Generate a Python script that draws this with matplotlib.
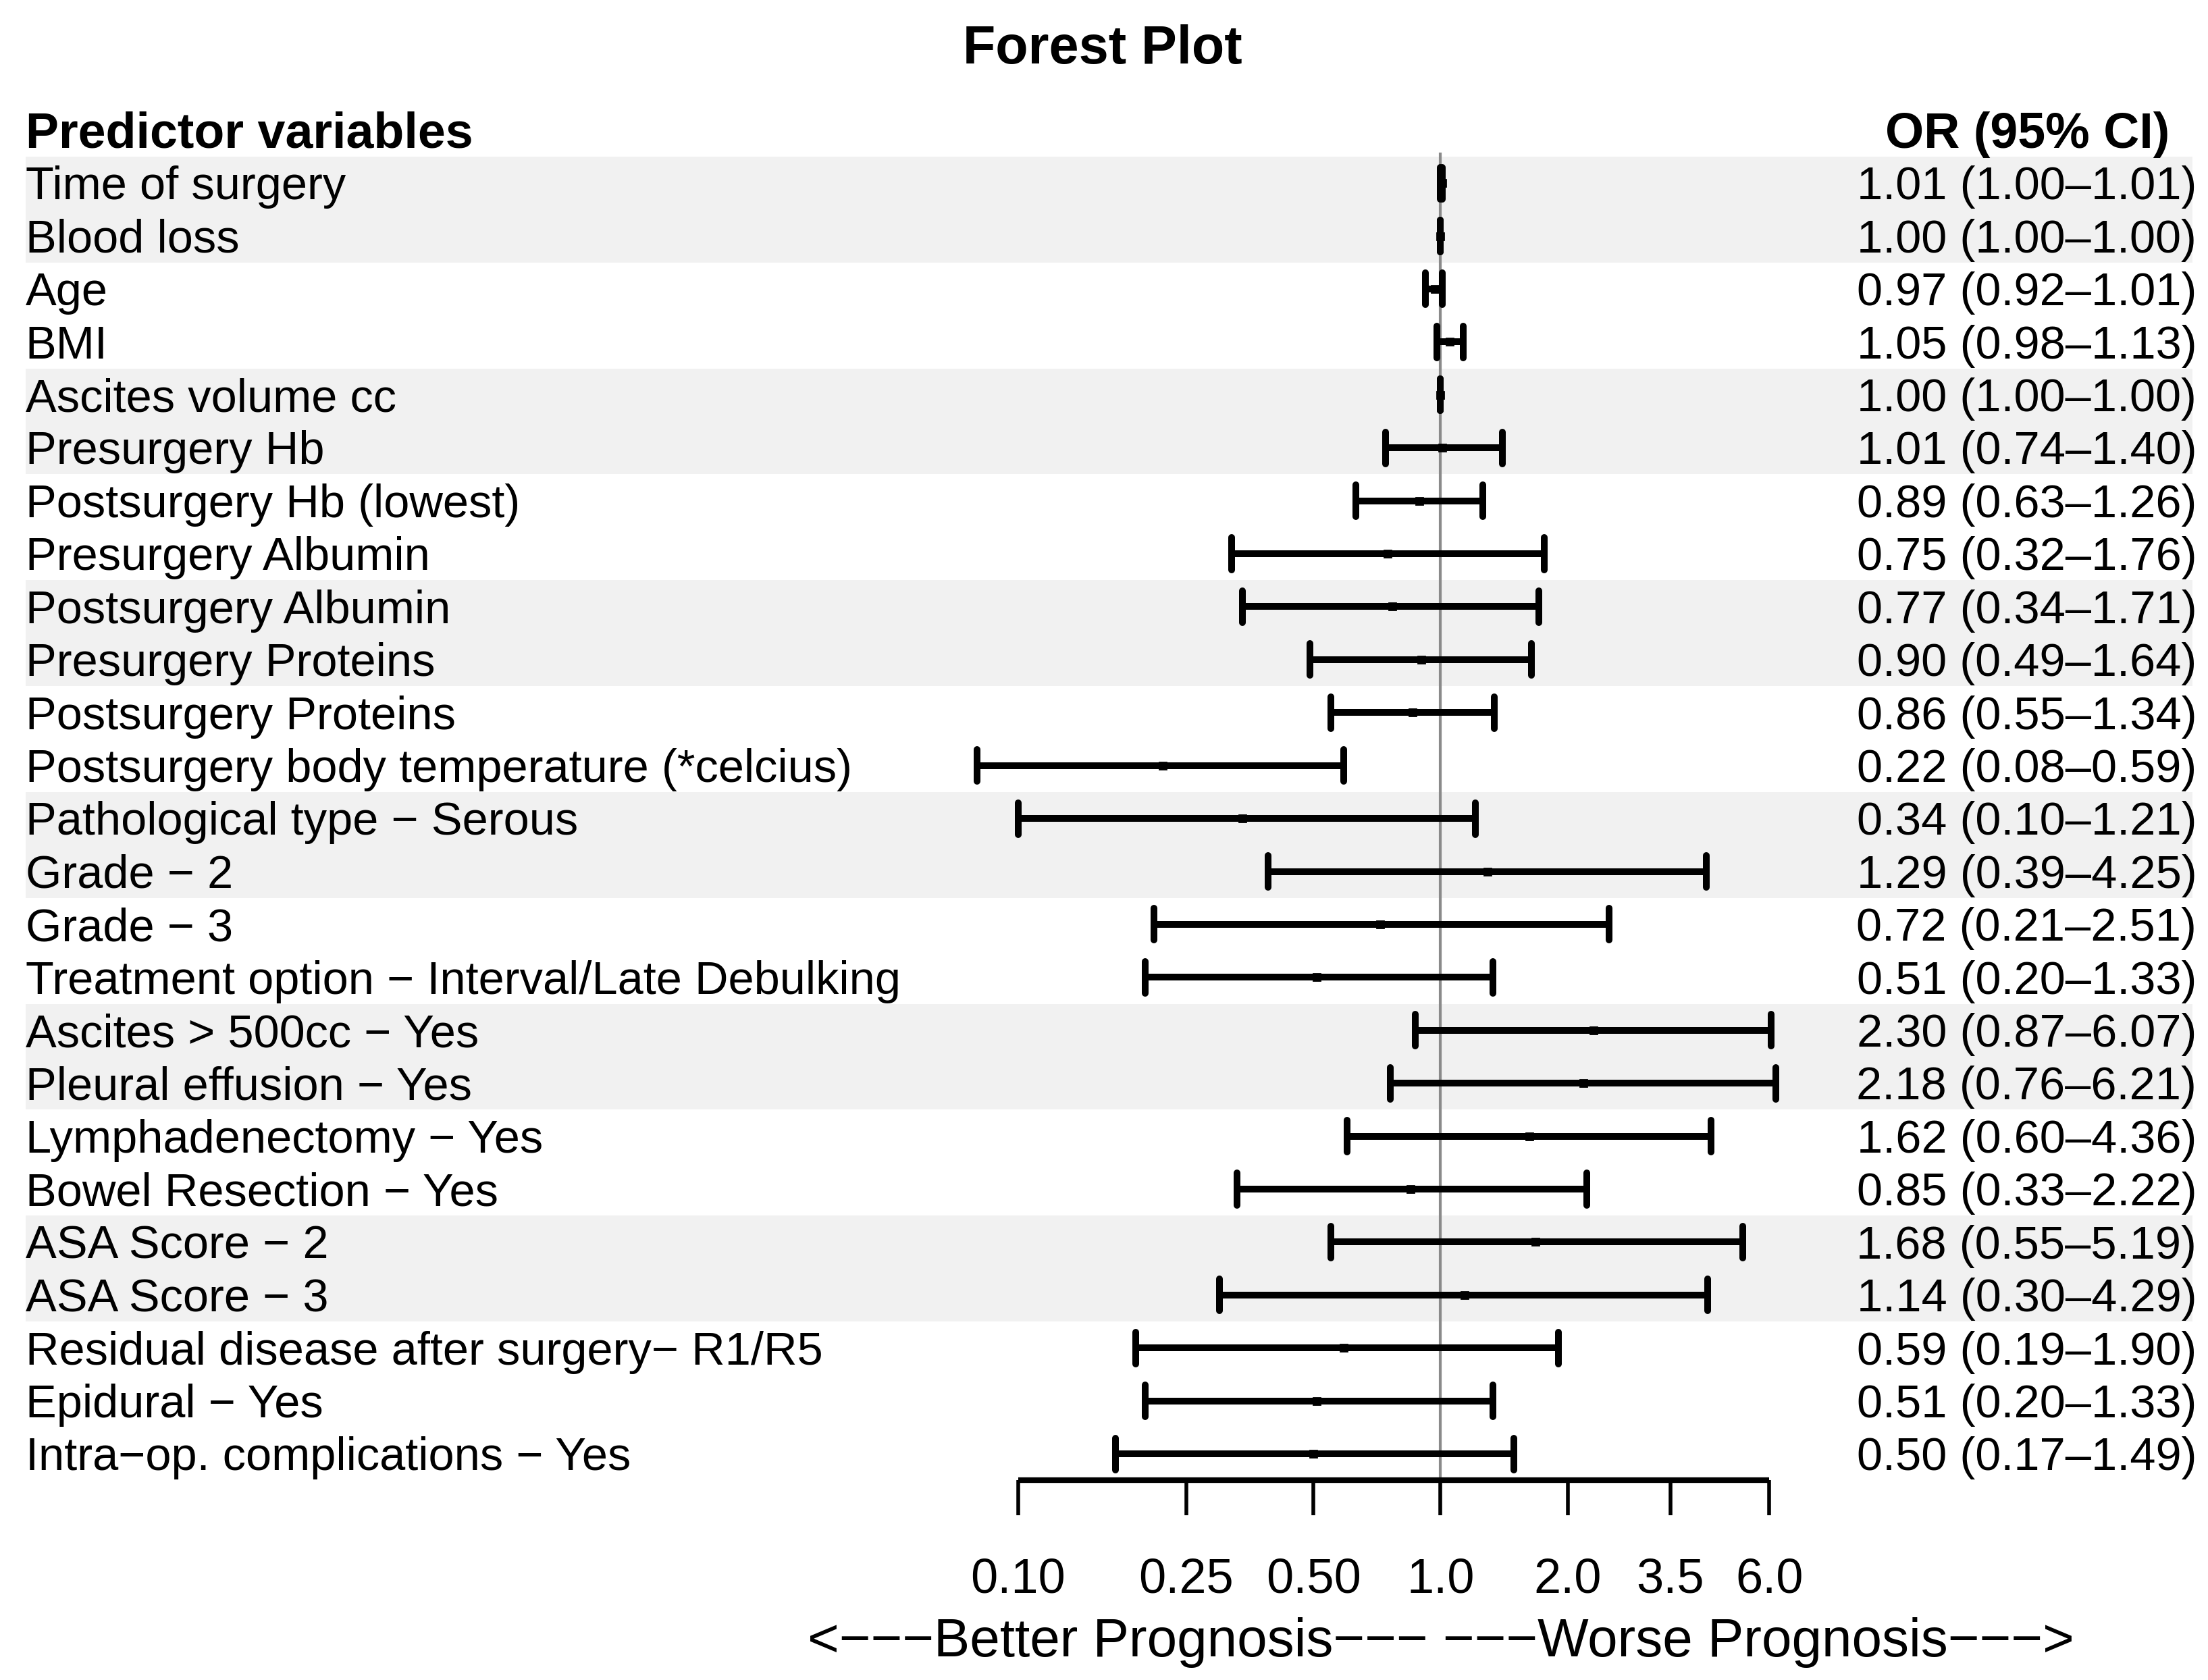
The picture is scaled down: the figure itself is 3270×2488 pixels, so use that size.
import numpy as np
import matplotlib
matplotlib.use('Agg')
import matplotlib.pyplot as plt

plt.rcParams['font.family'] = ['Liberation Sans', 'DejaVu Sans']

# Dati
labels = ['Time of surgery', 'Blood loss', 'Age', 'BMI', 'Ascites volume cc',
          'Presurgery Hb', 'Postsurgery Hb (lowest)', 'Presurgery Albumin',
          'Postsurgery Albumin', 'Presurgery Proteins', 'Postsurgery Proteins',
          'Postsurgery body temperature (*celcius)', 'Pathological type \u2212 Serous',
          'Grade \u2212 2', 'Grade \u2212 3',
          'Treatment option \u2212 Interval/Late Debulking',
          'Ascites > 500cc \u2212 Yes', 'Pleural effusion \u2212 Yes',
          'Lymphadenectomy \u2212 Yes', 'Bowel Resection \u2212 Yes',
          'ASA Score \u2212 2', 'ASA Score \u2212 3',
          'Residual disease after surgery\u2212 R1/R5', 'Epidural \u2212 Yes',
          'Intra\u2212op. complications \u2212 Yes']
odds = [1.01, 1.00, 0.97, 1.05, 1.00, 1.01, 0.89, 0.75, 0.77, 0.90, 0.86, 0.22,
        0.34, 1.29, 0.72, 0.51, 2.30, 2.18, 1.62, 0.85, 1.68, 1.14, 0.59, 0.51, 0.50]
lower = [1.00, 1.00, 0.92, 0.98, 1.00, 0.74, 0.63, 0.32, 0.34, 0.49, 0.55, 0.08,
         0.10, 0.39, 0.21, 0.20, 0.87, 0.76, 0.60, 0.33, 0.55, 0.30, 0.19, 0.20, 0.17]
upper = [1.01, 1.00, 1.01, 1.13, 1.00, 1.40, 1.26, 1.76, 1.71, 1.64, 1.34, 0.59,
         1.21, 4.25, 2.51, 1.33, 6.07, 6.21, 4.36, 2.22, 5.19, 4.29, 1.90, 1.33, 1.49]
tick_values = [0.10, 0.25, 0.50, 1.0, 2.0, 3.5, 6.0]
tick_labels = ['0.10', '0.25', '0.50', '1.0', '2.0', '3.5', '6.0']
# righe con sfondo grigio (a coppie)
shaded = [0, 1, 4, 5, 8, 9, 12, 13, 16, 17, 20, 21]

W, H = 1568.0, 1193.0          # unita' di riferimento
row0, step = 130.0, 37.6       # posizione prima riga e passo
x_one = 1023.0                 # posizione di OR = 1
px_dec = 300.0                 # pixel per decade


def fy(y):
    return (y - row0) / step


fig = plt.figure(figsize=(16.35, 12.44), dpi=200)
ax = fig.add_axes([0, 0, 1, 1])
ax.set_xscale('log')
ax.set_xlim(10 ** (-x_one / px_dec), 10 ** ((W - x_one) / px_dec))
ax.set_ylim(fy(H), fy(0))
ax.axis('off')
tr = ax.get_yaxis_transform()

n = len(labels)
rows = np.arange(n)

for i in shaded:
    ax.axhspan(i - 0.5, i + 0.5, xmin=18 / W, xmax=1557 / W,
               color='#f1f1f1', lw=0, zorder=0)

axis_y = fy(1051)
ax.plot([1, 1], [-0.55, axis_y], color='#8a8a8a', lw=1.5, zorder=1)

# intervalli di confidenza
ax.hlines(rows, lower, upper, color='black', lw=3.6, zorder=3)
cap = 0.30
ax.vlines(lower, rows - cap, rows + cap, color='black', lw=3.6, zorder=3,
          capstyle='round')
ax.vlines(upper, rows - cap, rows + cap, color='black', lw=3.6, zorder=3,
          capstyle='round')
ax.plot(odds, rows, 's', color='black', ms=3.5, zorder=4)

# asse
ax.plot([tick_values[0], tick_values[-1]], [axis_y, axis_y], color='black',
        lw=3.0, solid_capstyle='butt', zorder=3)
ax.vlines(tick_values, axis_y, fy(1076), color='black', lw=2.0)
for v, t in zip(tick_values, tick_labels):
    ax.text(v, fy(1131), t, ha='center', va='baseline', fontsize=26)
ax.text(1.0, fy(1176),
        '<\u2212\u2212\u2212Better Prognosis\u2212\u2212\u2212 '
        '\u2212\u2212\u2212Worse Prognosis\u2212\u2212\u2212>',
        ha='center', va='baseline', fontsize=28.8)

# testi
for i in rows:
    ax.text(18 / W, i + 0.31, labels[i], transform=tr, ha='left',
            va='baseline', fontsize=24.7)
    s = f'{odds[i]:.2f} ({lower[i]:.2f}\u2013{upper[i]:.2f})'
    ax.text(1560 / W, i + 0.31, s, transform=tr, ha='right',
            va='baseline', fontsize=24.7)

ax.text(18 / W, fy(105), 'Predictor variables', transform=tr, ha='left',
        va='baseline', fontsize=26.5, fontweight='bold')
ax.text(1440 / W, fy(105), 'OR (95% CI)', transform=tr, ha='center',
        va='baseline', fontsize=26.5, fontweight='bold')
ax.text(783 / W, fy(45), 'Forest Plot', transform=tr, ha='center',
        va='baseline', fontsize=28.5, fontweight='bold')

fig.savefig('out.png', dpi=200, facecolor='white')
